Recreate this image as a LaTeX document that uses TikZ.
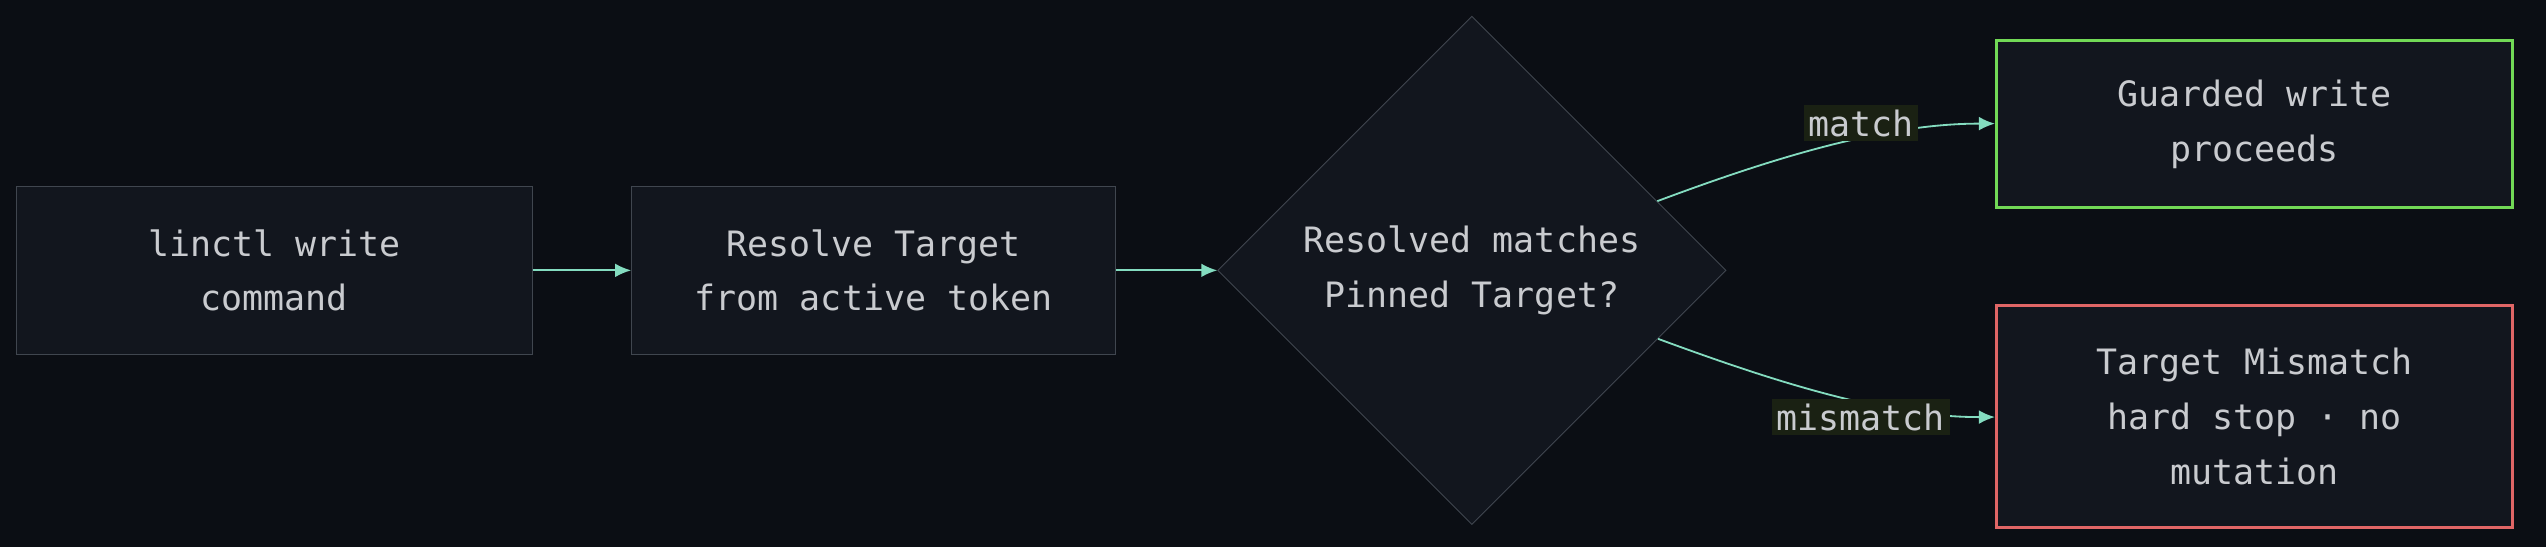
\documentclass[tikz,border=0pt]{standalone}
\usepackage{fontspec}
\setmonofont{DejaVu Sans Mono}
\usetikzlibrary{shapes.geometric,arrows.meta}
\definecolor{bgc}{HTML}{0B0E14}
\definecolor{boxc}{HTML}{12161E}
\definecolor{edgec}{HTML}{40464F}
\definecolor{txtc}{HTML}{C9CBCF}
\definecolor{flowc}{HTML}{84DCC0}
\definecolor{okc}{HTML}{72D956}
\definecolor{badc}{HTML}{E06666}
\definecolor{lblc}{HTML}{1A2113}
\tikzset{
  box/.style={shape=rectangle, draw=edgec, fill=boxc, text=txtc, align=center,
    minimum width=7.95cm, minimum height=2.575cm, font=\ttfamily\fontsize{15.3}{24}\selectfont},
  flow/.style={draw=flowc, line width=0.8pt, -{Latex[length=7pt,width=6pt]}},
  lbl/.style={fill=lblc, text=txtc, inner sep=2pt, font=\ttfamily\fontsize{15.3}{18}\selectfont}
}
\begin{document}
\begin{tikzpicture}[x=0.025cm, y=-0.025cm]
    \fill[bgc] (0,0) rectangle (1568,337);
    \useasboundingbox (0,0) rectangle (1568,337);
    \node[box] at (169,166.5) (cmd) {linctl write\\command};
    \node[box, minimum width=7.45cm] at (538,166.5) (res) {Resolve Target\\from active token};
    \node[box, shape=diamond, minimum width=7.825cm, minimum height=7.825cm, inner sep=0pt] at (906.5,166.5) (chk) {Resolved matches\\Pinned Target?};
    \node[box, draw=okc, line width=1.2pt] at (1388.5,76.5) (ok) {Guarded write\\proceeds};
    \node[box, draw=badc, line width=1.2pt, minimum height=3.425cm] at (1388.5,256.5) (bad) {Target Mismatch\\hard stop · no\\mutation};
    \path [flow] (cmd) -- (res);
    \path [flow] (res) -- (chk);
    \path [flow] (chk) .. controls (1090,98) and (1160,76) .. (ok);
    \path [flow] (chk) .. controls (1090,234) and (1160,257) .. (bad);
    \node[lbl] at (1146,76) (m1) {match};
    \node[lbl] at (1146,257) (m2) {mismatch};
\end{tikzpicture}
\end{document}
